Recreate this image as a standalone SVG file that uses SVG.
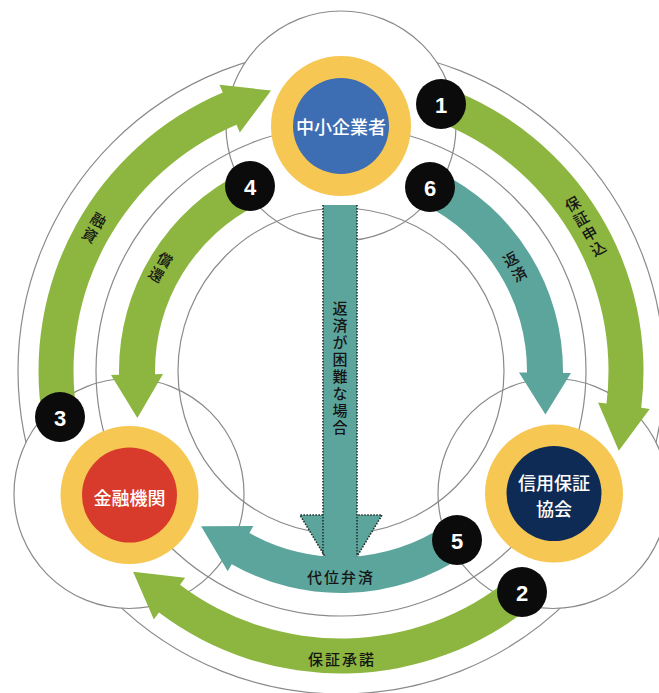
<svg xmlns="http://www.w3.org/2000/svg" width="659" height="693" viewBox="0 0 659 693">
<style>
.ln{fill:none;stroke:#8a8a8a;stroke-width:1.2}
.lobe{fill:#ffffff;stroke:#8a8a8a;stroke-width:1.2}
.green{fill:#8db640}
.teal{fill:#5ca59d}
.ring{fill:#f6c752}
.bdg{fill:#0b0b0b}
.num{fill:#ffffff;font-family:"Liberation Sans",Arial,sans-serif;font-weight:bold;font-size:22px;text-anchor:middle;dominant-baseline:central}
.nt{fill:#ffffff;font-family:"Noto Sans CJK JP","Noto Sans CJK SC",sans-serif;font-size:18px;font-weight:500;text-anchor:middle;dominant-baseline:central}
.lbl{fill:#151515;font-family:"Noto Sans CJK JP","Noto Sans CJK SC",sans-serif;font-size:15px;font-weight:500;text-anchor:middle;dominant-baseline:central}
.vt{writing-mode:vertical-rl;letter-spacing:2px}
.dot{fill:none;stroke:#26302e;stroke-width:1.6;stroke-dasharray:1.6 1.4}
</style>
<rect width="659" height="693" fill="#ffffff"/>
<g id="rings-bg">
<circle class="ln" cx="341" cy="371" r="323"/>
<circle class="lobe" cx="341" cy="126" r="115"/>
<circle class="lobe" cx="129" cy="493.5" r="115"/>
<circle class="lobe" cx="553" cy="493.5" r="115"/>
<circle class="ln" cx="341" cy="371" r="245"/>
<circle class="ln" cx="341" cy="371" r="163"/>
</g>
<g id="connectors">
<g id="arrow-vertical">
<path class="teal" d="M323,205 L357,205 L357,515 L382,515 L341,583 L300,515 L323,515 Z"/>
<path class="dot" d="M323,205 V580 M357,205 V580 M323,515 H300 L341,583 L382,515 H357"/>
</g>
<path id="arrow-3" class="green" d="M42.65,420.93 A302.5,302.5 0 0 1 222.80,92.55 L219.48,84.72 L271.09,90.58 L239.80,132.59 L236.48,124.77 A267.5,267.5 0 0 0 77.17,415.15 Z"/>
<path id="arrow-1" class="green" d="M446.94,87.66 A302.5,302.5 0 0 1 641.25,407.87 L649.68,408.90 L618.80,450.66 L598.07,402.56 L606.51,403.60 A267.5,267.5 0 0 0 434.68,120.44 Z"/>
<path id="arrow-2" class="green" d="M533.41,604.42 A302.5,302.5 0 0 1 158.95,612.59 L153.83,619.38 L133.11,571.76 L185.13,577.85 L180.01,584.64 A267.5,267.5 0 0 0 511.15,577.41 Z"/>
<path id="arrow-4" class="green" d="M243.68,171.47 A222,222 0 0 0 119.03,374.87 L111.03,375.01 L137.36,418.01 L163.03,374.11 L155.03,374.25 A186,186 0 0 1 259.46,203.83 Z"/>
<path id="arrow-6" class="teal" d="M438.32,171.47 A222,222 0 0 1 562.99,372.94 L570.99,373.01 L545.43,414.45 L518.99,372.55 L526.99,372.62 A186,186 0 0 0 422.54,203.83 Z"/>
<path id="arrow-5" class="teal" d="M465.14,555.05 A222,222 0 0 1 231.68,564.22 L227.74,571.18 L201.15,526.32 L253.35,525.92 L249.41,532.89 A186,186 0 0 0 445.01,525.20 Z"/>
</g>
<g id="labels">
<text class="lbl vt" transform="translate(586,227) rotate(-30)">保証申込</text>
<text class="lbl vt" transform="translate(515.5,267.5) rotate(-30)">返済</text>
<text class="lbl vt" transform="translate(93.5,228.5) rotate(30)">融資</text>
<text class="lbl vt" transform="translate(160,268) rotate(30)">償還</text>
<text class="lbl vt" x="340" y="369">返済が困難な場合</text>
<text class="lbl" x="342" y="658" style="letter-spacing:2px">保証承諾</text>
<text class="lbl" x="341" y="576" style="letter-spacing:2px">代位弁済</text>
</g>
<g id="node-chusho">
<circle class="ring" cx="341" cy="126" r="70"/>
<circle cx="341" cy="126" r="48" fill="#3d6db3"/>
<text class="nt" x="341" y="126">中小企業者</text>
</g>
<g id="node-kinyu">
<circle class="ring" cx="129.5" cy="495" r="69"/>
<circle cx="129.5" cy="495" r="47.5" fill="#d83b2b"/>
<text class="nt" x="129.5" y="497">金融機関</text>
</g>
<g id="node-hosho">
<circle class="ring" cx="554" cy="493.5" r="69"/>
<circle cx="554" cy="493.5" r="47.5" fill="#0e2b56"/>
<text class="nt" x="554" y="482">信用保証</text>
<text class="nt" x="554" y="508">協会</text>
</g>
<g id="badge-1"><circle class="bdg" cx="441" cy="104" r="25"/><text class="num" x="441" y="105">1</text></g>
<g id="badge-2"><circle class="bdg" cx="522" cy="592" r="25"/><text class="num" x="522" y="593">2</text></g>
<g id="badge-3"><circle class="bdg" cx="60" cy="417" r="25"/><text class="num" x="60" y="418">3</text></g>
<g id="badge-4"><circle class="bdg" cx="250" cy="186" r="25"/><text class="num" x="250" y="187">4</text></g>
<g id="badge-5"><circle class="bdg" cx="457" cy="540" r="25"/><text class="num" x="457" y="541">5</text></g>
<g id="badge-6"><circle class="bdg" cx="430" cy="187" r="25"/><text class="num" x="430" y="188">6</text></g>
</svg>
